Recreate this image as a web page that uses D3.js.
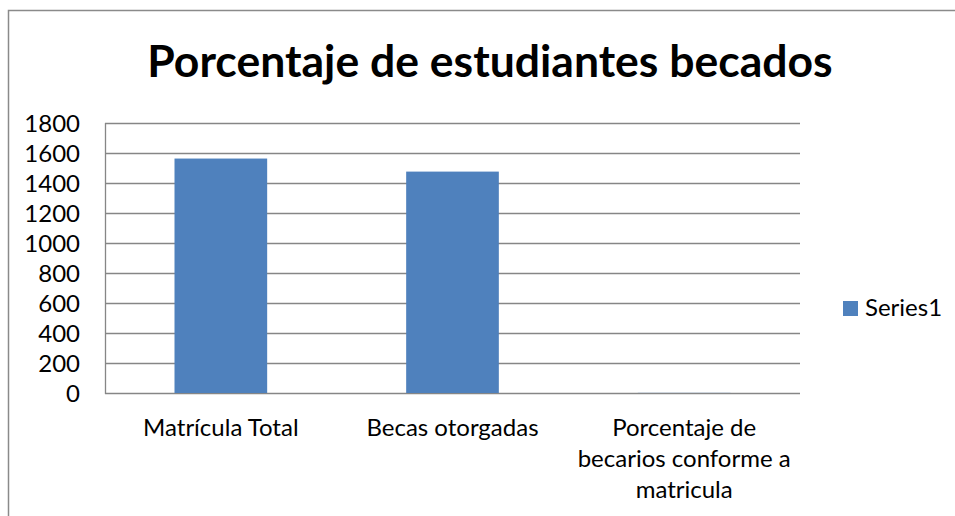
<!DOCTYPE html>
<html>
<head>
<meta charset="utf-8">
<script src="https://cdn.jsdelivr.net/npm/d3@7.9.0/dist/d3.min.js"></script>
<style>
  html, body { margin: 0; padding: 0; background: #fff; }
  svg { display: block; font-family: Lato, "Open Sans", sans-serif; }
</style>
</head>
<body>
<svg width="955" height="516"></svg>
<script>
const title = 'Porcentaje de estudiantes becados';
const categories = ['Matrícula Total', 'Becas otorgadas', 'Porcentaje de becarios conforme a matricula'];
const series1 = [1563, 1476, 0.94];
const yTicks = [0, 200, 400, 600, 800, 1000, 1200, 1400, 1600, 1800];
const seriesName = 'Series1';

const svg = d3.select('svg');
const margin = { left: 105, right: 155, top: 123, bottom: 123 };
const width = 955, height = 516;
const fontSize = 24;

// chart frame
svg.append('rect')
  .attr('x', 8.5).attr('y', 10.5)
  .attr('width', 960).attr('height', 520)
  .attr('fill', 'none')
  .attr('stroke', '#8a8a8a')
  .attr('stroke-width', 1.5);

let x = d3.scaleBand()
  .domain(categories)
  .range([margin.left, width - margin.right])
  .paddingInner(0.6)
  .paddingOuter(0.3);

let y = d3.scaleLinear()
  .domain([0, 1800])
  .range([393, 123]);

// gridlines
svg.append('g')
  .selectAll('line')
  .data(yTicks)
  .join('line')
  .attr('x1', margin.left).attr('x2', width - margin.right)
  .attr('y1', (d) => Math.round(y(d)) + 0.5)
  .attr('y2', (d) => Math.round(y(d)) + 0.5)
  .attr('stroke', '#868686')
  .attr('stroke-width', 1.3);

// vertical axis line
svg.append('line')
  .attr('x1', margin.left + 0.5).attr('x2', margin.left + 0.5)
  .attr('y1', y(1800)).attr('y2', y(0) + 1)
  .attr('stroke', '#868686')
  .attr('stroke-width', 1.3);

// bars
svg.append('g')
  .selectAll('rect')
  .data(series1)
  .join('rect')
  .attr('x', (d, i) => x(categories[i]))
  .attr('width', x.bandwidth())
  .attr('y', (d) => y(d))
  .attr('height', (d) => y(0) - y(d))
  .attr('fill', '#4f81bd');

// y tick labels
svg.append('g')
  .selectAll('text')
  .data(yTicks)
  .join('text')
  .attr('x', 80)
  .attr('y', (d) => y(d))
  .attr('dy', '0.36em')
  .attr('text-anchor', 'end')
  .attr('font-size', fontSize)
  .attr('fill', '#000')
  .text((d) => d);

// category labels, wrapped to the band width
const step = x.step();
categories.forEach((c) => {
  const cx = x(c) + x.bandwidth() / 2;
  const t = svg.append('text')
    .attr('text-anchor', 'middle')
    .attr('font-size', fontSize)
    .attr('fill', '#000');
  let words = c.split(' ');
  let lines = [];
  let line = [];
  const probe = svg.append('text').attr('font-size', fontSize);
  words.forEach((w) => {
    line.push(w);
    probe.text(line.join(' '));
    if (probe.node().getComputedTextLength() > step && line.length > 1) {
      line.pop();
      lines.push(line.join(' '));
      line = [w];
    }
  });
  lines.push(line.join(' '));
  probe.remove();
  lines.forEach((l, i) => {
    t.append('tspan').attr('x', cx).attr('y', 436 + i * 31).text(l);
  });
});

// title
svg.append('text')
  .attr('x', 490)
  .attr('y', 77)
  .attr('text-anchor', 'middle')
  .attr('font-size', 44.5)
  .attr('font-weight', 'bold')
  .attr('fill', '#000')
  .text(title);

// legend
const legend = svg.append('g').attr('transform', 'translate(843,301)');
legend.append('rect')
  .attr('width', 15).attr('height', 15)
  .attr('fill', '#4f81bd');
legend.append('text')
  .attr('x', 22).attr('y', 15)
  .attr('font-size', fontSize)
  .attr('fill', '#000')
  .text(seriesName);
</script>
</body>
</html>
